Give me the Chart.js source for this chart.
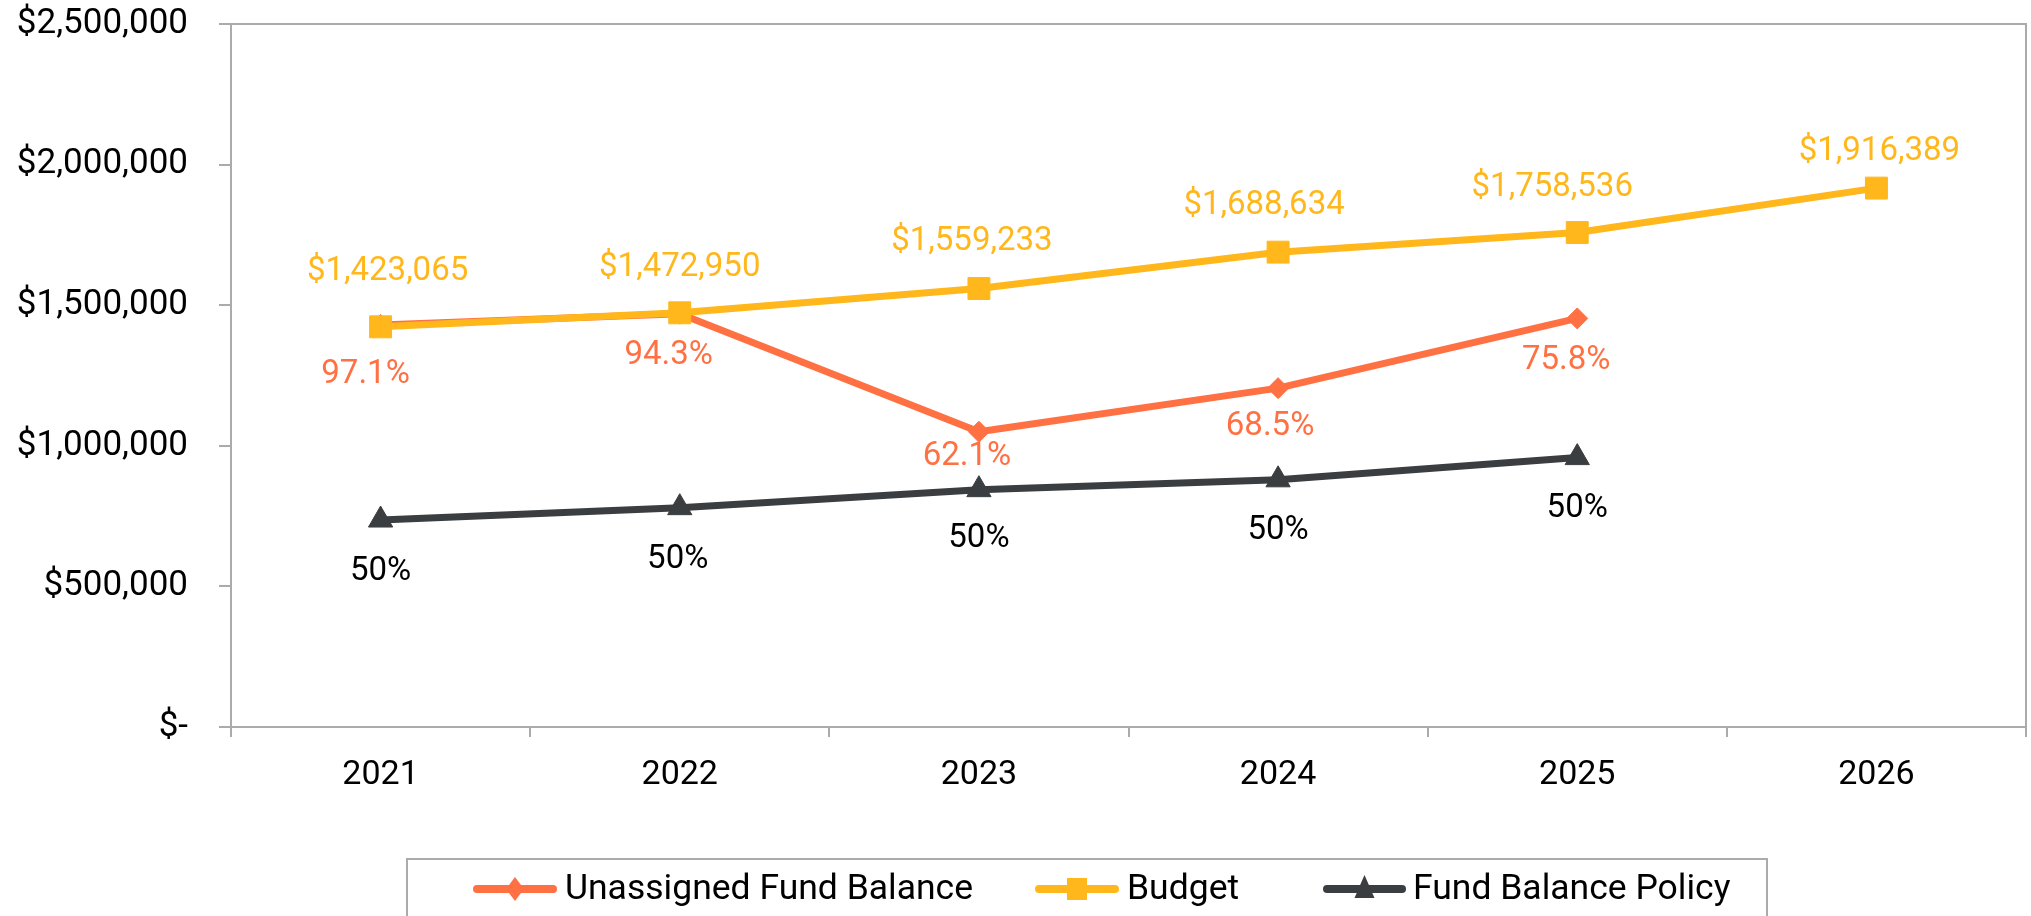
<!DOCTYPE html>
<html><head><meta charset="utf-8">
<script src="https://cdn.jsdelivr.net/npm/chart.js@4"></script>
<style>html,body{margin:0;padding:0;background:#fff;overflow:hidden}</style>
</head><body>
<canvas id="c" width="2031" height="916"></canvas>
<script>
// ---- data ----
const years = ['2021', '2022', '2023', '2024', '2025', '2026'];
const budget = [1423065, 1472950, 1559233, 1688634, 1758536, 1916389];
const unassigned = [1430000, 1470000, 1050000, 1205000, 1453000, null];
const policy = [736000, 780000, 844000, 879000, 958000, null];
const unassignedPct = ['97.1%', '94.3%', '62.1%', '68.5%', '75.8%'];
const policyPct = ['50%', '50%', '50%', '50%', '50%'];
const yTickLabels = ['$-', '$500,000', '$1,000,000', '$1,500,000', '$2,000,000', '$2,500,000'];
const seriesNames = ['Unassigned Fund Balance', 'Budget', 'Fund Balance Policy'];
const budgetLabels = budget.map(v => '$' + v.toLocaleString('en-US'));

// ---- styles ----
const FONT = 'Roboto';
const C_ORANGE = '#FF7043', C_GOLD = '#FFB71B', C_DARK = '#3A3E41', C_AXIS = '#ABABAB';

const valueLabels = {
  id: 'valueLabels',
  afterDatasetsDraw(chart, args, opts) {
    const ctx = chart.ctx;
    ctx.save();
    ctx.font = opts.size + 'px ' + FONT;
    ctx.textAlign = 'center';
    ctx.textBaseline = 'middle';
    opts.sets.forEach(s => {
      const meta = chart.getDatasetMeta(s.dataset);
      meta.data.forEach((pt, i) => {
        const txt = s.labels[i];
        if (txt == null || pt.skip) return;
        const off = s.offsets[i] || [0, 0];
        ctx.fillStyle = s.color;
        ctx.fillText(txt, pt.x + off[0], pt.y + off[1]);
      });
    });
    ctx.restore();
  }
};

const frame = {
  id: 'frame',
  afterDraw(chart) {
    const {ctx, chartArea: a} = chart;
    ctx.save();
    ctx.strokeStyle = C_AXIS;
    ctx.lineWidth = 2;
    ctx.beginPath();
    ctx.moveTo(a.left - 12, a.top);
    ctx.lineTo(a.right, a.top);
    ctx.lineTo(a.right, a.bottom);
    ctx.stroke();
    ctx.restore();
  }
};

function marker(ctx, type, x, y, color) {
  ctx.fillStyle = color;
  ctx.beginPath();
  if (type === 'diamond') {
    ctx.moveTo(x, y - 12); ctx.lineTo(x + 9, y); ctx.lineTo(x, y + 12); ctx.lineTo(x - 9, y);
  } else if (type === 'square') {
    ctx.rect(x - 10, y - 11, 20, 22);
  } else {
    ctx.moveTo(x, y - 14); ctx.lineTo(x + 10, y + 9); ctx.lineTo(x - 10, y + 9);
  }
  ctx.closePath();
  ctx.fill();
}

const customLegend = {
  id: 'customLegend',
  afterDraw(chart) {
    const ctx = chart.ctx;
    ctx.save();
    ctx.strokeStyle = C_AXIS;
    ctx.lineWidth = 2;
    ctx.strokeRect(407, 859, 1360, 120);
    const items = [
      {x0: 477, x1: 553, tx: 565, color: C_ORANGE, m: 'diamond'},
      {x0: 1039, x1: 1115, tx: 1127, color: C_GOLD, m: 'square'},
      {x0: 1327, x1: 1402, tx: 1413, color: C_DARK, m: 'triangle'}
    ];
    const y = 889;
    items.forEach((it, i) => {
      ctx.strokeStyle = it.color;
      ctx.lineWidth = 8;
      ctx.lineCap = 'round';
      ctx.beginPath(); ctx.moveTo(it.x0, y); ctx.lineTo(it.x1, y); ctx.stroke();
      marker(ctx, it.m, (it.x0 + it.x1) / 2, y, it.color);
      ctx.fillStyle = '#000';
      ctx.font = '35.5px ' + FONT;
      ctx.textAlign = 'left';
      ctx.textBaseline = 'middle';
      ctx.fillText(seriesNames[i], it.tx, y + 1);
    });
    ctx.restore();
  }
};

new Chart(document.getElementById('c'), {
  type: 'line',
  data: {
    labels: years,
    datasets: [
      {
        label: seriesNames[0], data: unassigned, order: 2,
        borderColor: C_ORANGE, backgroundColor: C_ORANGE, borderWidth: 7,
        pointStyle: 'rectRot', pointRadius: 10.5, pointBorderWidth: 1,
        borderJoinStyle: 'round', borderCapStyle: 'round', tension: 0
      },
      {
        label: seriesNames[1], data: budget, order: 1,
        borderColor: C_GOLD, backgroundColor: C_GOLD, borderWidth: 7,
        pointStyle: 'rect', pointRadius: 15.5, pointBorderWidth: 1,
        borderJoinStyle: 'round', borderCapStyle: 'round', tension: 0
      },
      {
        label: seriesNames[2], data: policy, order: 3,
        borderColor: C_DARK, backgroundColor: C_DARK, borderWidth: 7,
        pointStyle: 'triangle', pointRadius: 14, pointBorderWidth: 1,
        borderJoinStyle: 'round', borderCapStyle: 'round', tension: 0
      }
    ]
  },
  options: {
    responsive: false,
    animation: false,
    devicePixelRatio: 1,
    layout: {autoPadding: false, padding: {left: 0, top: 24, right: 5, bottom: 0}},
    plugins: {
      legend: {display: false},
      tooltip: {enabled: false},
      valueLabels: {
        size: 33,
        sets: [
          {dataset: 1, labels: budgetLabels, color: C_GOLD,
           offsets: [[7, -55], [0, -45], [-7, -47], [-14, -46], [-25, -45], [3, -36]]},
          {dataset: 0, labels: unassignedPct, color: C_ORANGE,
           offsets: [[-15, 50], [-11, 42], [-12, 25], [-8, 39], [-11, 42]]},
          {dataset: 2, labels: policyPct, color: '#000',
           offsets: [[0, 52], [-2, 52], [0, 49], [0, 51], [0, 51]]}
        ]
      }
    },
    scales: {
      x: {
        type: 'category',
        offset: true,
        grid: {offset: true, drawOnChartArea: false, drawTicks: true, tickLength: 10, color: C_AXIS, lineWidth: 2},
        border: {display: true, color: C_AXIS, width: 2},
        ticks: {color: '#000', font: {family: FONT, size: 34}, padding: 18, maxRotation: 0},
        afterFit(s) { s.height = 189; s.paddingLeft = 0; s.paddingRight = 0; }
      },
      y: {
        min: 0, max: 2500000,
        ticks: {
          stepSize: 500000, color: '#000', font: {family: FONT, size: 35}, padding: 31,
          callback: (v, i) => yTickLabels[i]
        },
        grid: {drawOnChartArea: false, drawTicks: true, tickLength: 12, color: C_AXIS, lineWidth: 2},
        border: {display: true, color: C_AXIS, width: 2},
        afterFit(s) { s.width = 231; s.paddingTop = 0; s.paddingBottom = 0; }
      }
    }
  },
  plugins: [frame, valueLabels, customLegend]
});
</script>
</body></html>
